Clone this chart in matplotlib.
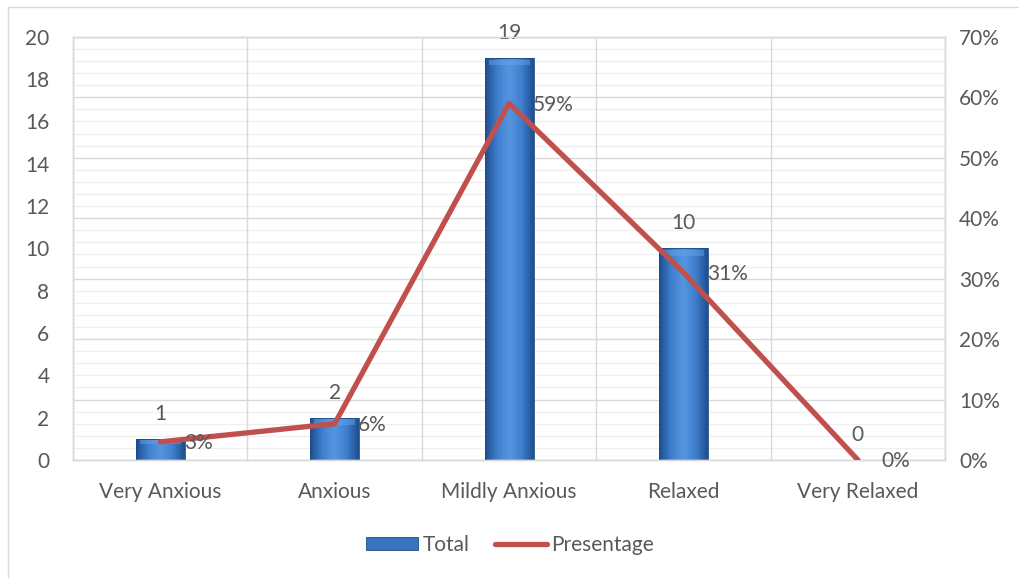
import numpy as np
import matplotlib
matplotlib.use("Agg")
from matplotlib import pyplot as plt
from matplotlib.patches import Patch, Rectangle
from matplotlib.lines import Line2D
from matplotlib.colors import LinearSegmentedColormap

categories = ["Very Anxious", "Anxious", "Mildly Anxious", "Relaxed", "Very Relaxed"]
totals = [1, 2, 19, 10, 0]
percent = [0.03, 0.06, 0.59, 0.31, 0.0]
percent_labels = ["3%", "6%", "59%", "31%", "0%"]

plt.rcParams['font.family'] = ['Lato', 'DejaVu Sans']
txt = "#595959"
red = "#c0504d"
fs = 15

fig = plt.figure(figsize=(10.2, 5.78), dpi=100)
ax = fig.add_axes([0.0716, 0.2042, 0.855, 0.732])
ax2 = ax.twinx()

ymax_left = 20
ymax_right = 0.7
ax.set_ylim(0, ymax_left)
ax2.set_ylim(0, ymax_right)
ax.set_xlim(-0.5, len(categories) - 0.5)

# gridlines follow the secondary axis (major 10%, minor 2%), drawn on the primary so bars sit on top
for p in np.arange(0, 0.7001, 0.02):
    major = abs(round(p / 0.1) * 0.1 - p) < 1e-6
    ax.axhline(p * ymax_left / ymax_right, color="#d9d9d9" if major else "#efefef",
               lw=1.0 if major else 0.9, zorder=0)
for xb in np.arange(-0.5, len(categories), 1.0):
    ax.axvline(xb, color="#d9d9d9", lw=1.0, zorder=0)

# bars with a horizontal shading
cmap = LinearSegmentedColormap.from_list("bar", ["#1f4f8f", "#3f7fcf", "#5696e0", "#3f7fcf", "#1f4f8f"])
grad = np.linspace(0, 1, 64).reshape(1, -1)
bw = 0.28
x = np.arange(len(categories))
bars = ax.bar(x, totals, width=bw, color="none", edgecolor="none", zorder=2)
for b in bars:
    h = b.get_height()
    if h <= 0:
        continue
    x0 = b.get_x()
    im = ax.imshow(grad, cmap=cmap, aspect="auto", extent=(x0, x0 + bw, 0, h), zorder=2,
                   interpolation="bicubic")
    clip = Rectangle((x0, 0), bw, h, transform=ax.transData, facecolor="none", edgecolor="none")
    ax.add_patch(clip)
    im.set_clip_path(clip)
    # lighter bevel on top
    top = min(0.35, h * 0.25)
    ax.add_patch(Rectangle((x0 + bw * 0.08, h - top), bw * 0.84, top * 0.8,
                           facecolor="#6aa6ea", edgecolor="none", alpha=0.45, zorder=3))
    ax.add_patch(Rectangle((x0, 0), bw, h, facecolor="none", edgecolor="#1d4a86", lw=0.6, zorder=3))

for xi, v in zip(x, totals):
    ax.annotate(str(v), (xi, v), xytext=(0, 18), textcoords="offset points",
                ha="center", va="center", fontsize=fs, color=txt, clip_on=False, zorder=5)

ax2.plot(x, percent, color=red, lw=3.8, solid_capstyle="round", zorder=4)
for xi, p, lab in zip(x, percent, percent_labels):
    ax2.annotate(lab, (xi, p), xytext=(17, -1), textcoords="offset points",
                 ha="left", va="center", fontsize=fs, color=txt, zorder=5)

ax.set_yticks(np.arange(0, 21, 2))
ax2.set_yticks(np.arange(0, 0.71, 0.1))
ax2.set_yticklabels([f"{int(round(t * 100))}%" for t in np.arange(0, 0.71, 0.1)])
ax.set_xticks(x)
ax.set_xticklabels(categories)

ax.tick_params(axis="y", length=0, pad=17, labelsize=fs, labelcolor=txt)
ax2.tick_params(axis="y", length=0, pad=10, labelsize=fs, labelcolor=txt)
ax.tick_params(axis="x", length=0, pad=16, labelsize=fs, labelcolor=txt)

for a in (ax, ax2):
    for s in a.spines.values():
        s.set_color("#d9d9d9")
        s.set_linewidth(1.0)

handles = [Patch(facecolor="#3a74c0", edgecolor="#1d4a86", lw=0.6),
           Line2D([0], [0], color=red, lw=3.8, solid_capstyle="round")]
fig.legend(handles, ["Total", "Presentage"], loc="center", bbox_to_anchor=(0.5, 0.057),
           ncol=2, frameon=False, fontsize=fs, labelcolor=txt, handlelength=2.5,
           handleheight=0.6, handletextpad=0.2, columnspacing=1.2)

# outer chart frame (only left and top edges fall inside the image)
fig.add_artist(Line2D([8 / 1020, 8 / 1020], [0, 1 - 7 / 578], color="#d9d9d9", lw=1.0))
fig.add_artist(Line2D([8 / 1020, 1], [1 - 7 / 578, 1 - 7 / 578], color="#d9d9d9", lw=1.0))

fig.savefig("out.png", dpi=100, facecolor="white")
